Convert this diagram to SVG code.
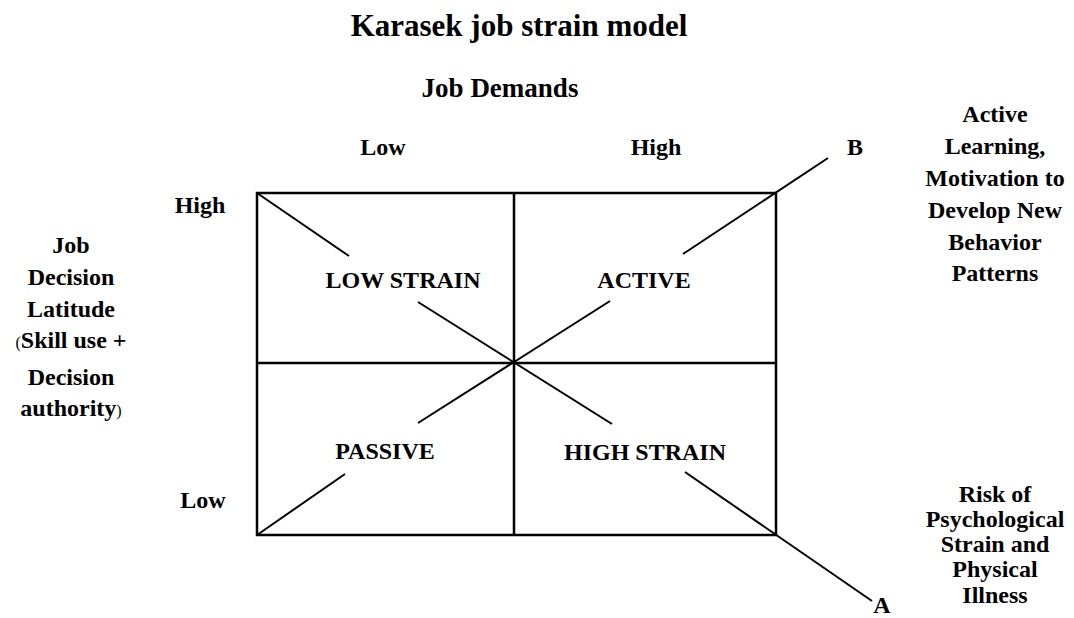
<svg xmlns="http://www.w3.org/2000/svg" width="1074" height="618" viewBox="0 0 1074 618">
<style>
text{font-family:"Liberation Serif","Times New Roman",serif;font-weight:bold;fill:#000;font-size:24px}
.c{text-anchor:middle}
.p{font-weight:normal;font-size:16px}
.ln{stroke:#000;stroke-width:2.5;fill:none}
.dg{stroke:#000;stroke-width:2;fill:none}
</style>
<rect width="1074" height="618" fill="#fff"/>
<g id="title"><text class="c" x="519" y="36" style="font-size:31px">Karasek job strain model</text></g>
<g id="job-demands"><text class="c" x="500" y="97" style="font-size:27px">Job Demands</text></g>
<g id="demand-low"><text class="c" x="383" y="155">Low</text></g>
<g id="demand-high"><text class="c" x="656" y="155">High</text></g>
<g id="latitude-high"><text class="c" x="200" y="213">High</text></g>
<g id="latitude-low"><text class="c" x="203" y="508">Low</text></g>
<g id="latitude-label">
<text class="c" x="71" y="253">Job</text>
<text class="c" x="71" y="285">Decision</text>
<text class="c" x="71" y="317">Latitude</text>
<text class="c" x="71" y="348"><tspan class="p">(</tspan>Skill use +</text>
<text class="c" x="71" y="385">Decision</text>
<text class="c" x="71" y="416">authority<tspan class="p">)</tspan></text>
</g>
<g id="grid">
<rect class="ln" x="257" y="193" width="519" height="342"/>
<line class="ln" x1="514" y1="193" x2="514" y2="535"/>
<line class="ln" x1="257" y1="363" x2="776" y2="363"/>
</g>
<g id="low-strain"><text class="c" x="403" y="288">LOW STRAIN</text></g>
<g id="active"><text class="c" x="644" y="288">ACTIVE</text></g>
<g id="passive"><text class="c" x="385" y="459">PASSIVE</text></g>
<g id="high-strain"><text class="c" x="645" y="460">HIGH STRAIN</text></g>
<g id="connectors">
<line class="dg" x1="257" y1="193" x2="349" y2="256"/>
<line class="dg" x1="418" y1="302" x2="612" y2="424"/>
<line class="dg" x1="685" y1="472" x2="872" y2="601"/>
<line class="dg" x1="257" y1="535" x2="345" y2="474"/>
<line class="dg" x1="418" y1="423" x2="610" y2="301"/>
<line class="dg" x1="683" y1="254" x2="828" y2="158"/>
</g>
<g id="point-b"><text class="c" x="855" y="155">B</text></g>
<g id="point-a"><text class="c" x="882" y="613">A</text></g>
<g id="active-learning">
<text class="c" x="995" y="122">Active</text>
<text class="c" x="995" y="154">Learning,</text>
<text class="c" x="995" y="186">Motivation to</text>
<text class="c" x="995" y="218">Develop New</text>
<text class="c" x="995" y="250">Behavior</text>
<text class="c" x="995" y="281">Patterns</text>
</g>
<g id="risk">
<text class="c" x="995" y="502">Risk of</text>
<text class="c" x="995" y="527">Psychological</text>
<text class="c" x="995" y="552">Strain and</text>
<text class="c" x="995" y="577">Physical</text>
<text class="c" x="995" y="603">Illness</text>
</g>
</svg>
